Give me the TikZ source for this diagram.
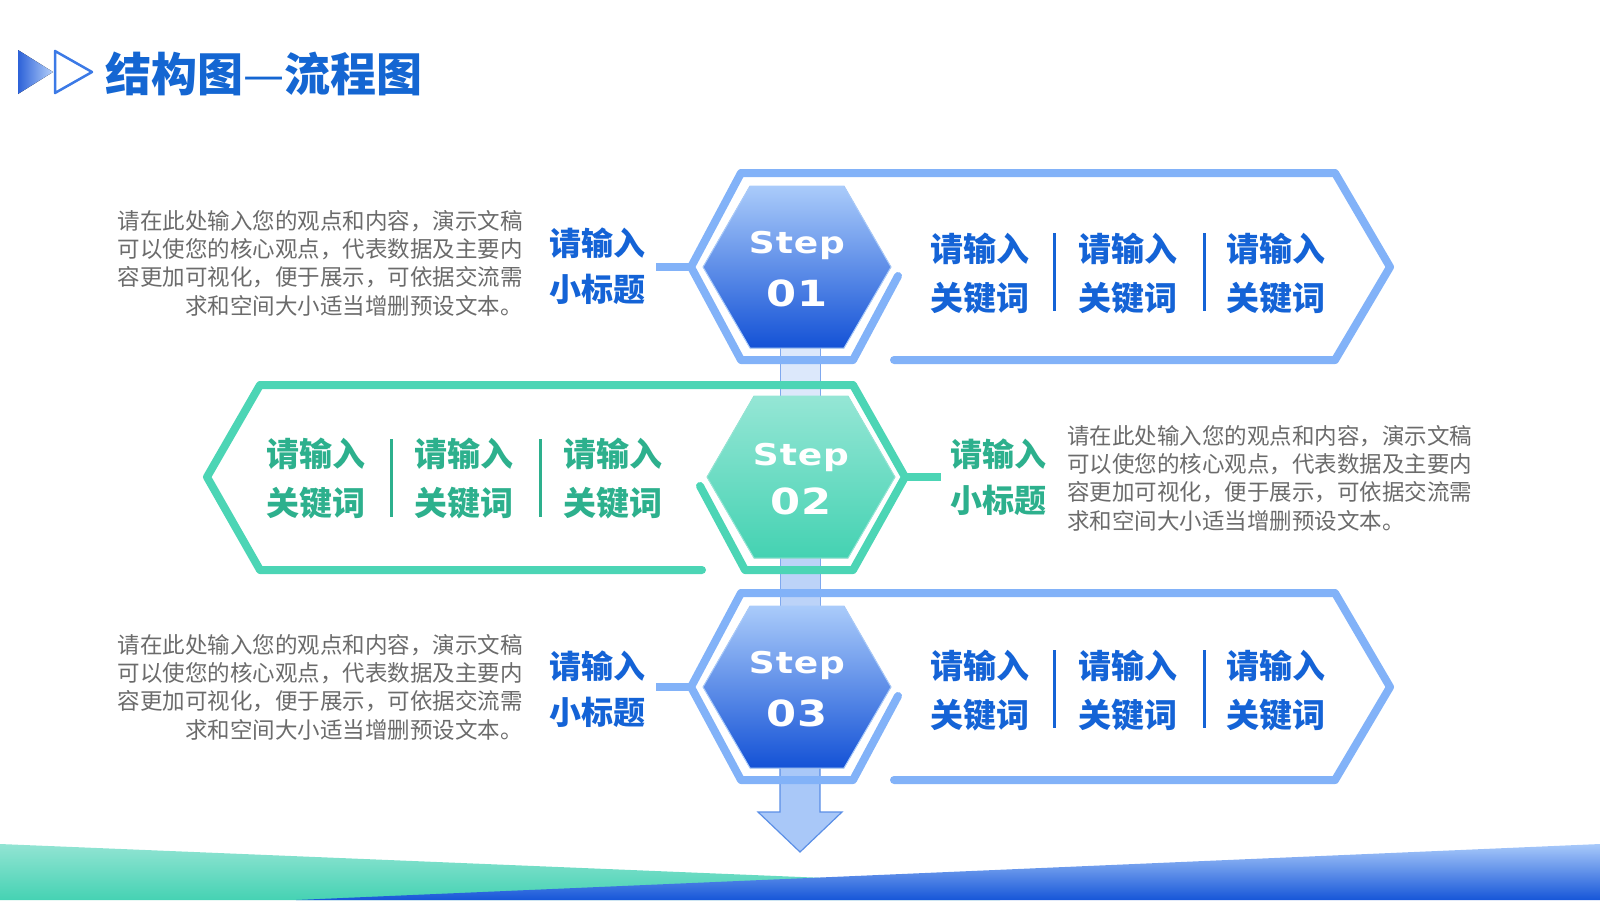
\documentclass[tikz,border=0pt]{standalone}
\usepackage{fontspec}
\setmainfont{Noto Sans CJK SC}
\newfontfamily\stepfont[FakeStretch=1.2,LetterSpace=3]{DejaVu Sans}
\definecolor{kwblue}{HTML}{1463D6}
\definecolor{kwgreen}{HTML}{2DB08D}
\definecolor{bodygray}{HTML}{6B6B6B}
\definecolor{titleblue}{HTML}{1466D2}
\definecolor{outblue}{HTML}{82B2F8}
\definecolor{outgreen}{HTML}{4CD5B5}
\definecolor{hexbluetop}{HTML}{AACBFA}
\definecolor{hexbluebot}{HTML}{1452D6}
\definecolor{hexgreentop}{HTML}{95E6D5}
\definecolor{hexgreenbot}{HTML}{44D2B2}
\definecolor{barlight}{HTML}{DCE8FB}
\definecolor{barmid}{HTML}{BCD3F8}
\definecolor{barside}{HTML}{7FA8EE}
\definecolor{arrowfill}{HTML}{A9C8F8}
\definecolor{arrowdraw}{HTML}{5B8FE6}
\definecolor{bandgreentop}{HTML}{92E4D3}
\definecolor{bandgreenbot}{HTML}{45D2B3}
\definecolor{bandbluetop}{HTML}{A8C9FA}
\definecolor{bandbluebot}{HTML}{1656D8}
\definecolor{icondark}{HTML}{2D62D8}
\definecolor{iconlight}{HTML}{B5D0FA}
\definecolor{iconline}{HTML}{3C7AE6}
\begin{document}
\begin{tikzpicture}[x=1pt,y=-1pt,
  outline/.style={line width=8pt,line cap=round,line join=round},
  link/.style={line width=8pt,line cap=butt},
  kw/.style={font=\fontsize{33}{49}\selectfont\bfseries,align=center,inner sep=0},
  sub/.style={font=\fontsize{32}{46}\selectfont\bfseries,align=center,inner sep=0},
  body/.style={font=\fontsize{22.5}{28.3}\selectfont,text=bodygray,inner sep=0},
  steptxt/.style={font=\stepfont\bfseries\fontsize{30}{30}\selectfont,text=white,inner sep=0,anchor=base},
  stepnum/.style={font=\stepfont\bfseries\fontsize{36}{36}\selectfont,text=white,inner sep=0,anchor=base},
  sepline/.style={line width=3pt},
  hexblue/.style={top color=hexbluetop,bottom color=hexbluebot,draw=hexbluetop,line width=1pt},
  hexgreen/.style={top color=hexgreentop,bottom color=hexgreenbot,draw=hexgreentop,line width=1pt},
  barbox/.style={draw=barside,line width=1pt}
]
\useasboundingbox (0,0) rectangle (1600,900);

% bottom band
\shade[top color=bandgreentop,bottom color=bandgreenbot] (0,844) -- (1000,885.2) -- (1000,900) -- (0,900) -- cycle;
\shade[top color=bandbluetop,bottom color=bandbluebot] (296,900) -- (1600,844) -- (1600,900) -- cycle;

% title
\fill[left color=icondark,right color=iconlight] (18,50) -- (53,72) -- (18,94) -- cycle;
\draw[draw=iconline,line width=2.5pt,line join=round] (55,51) -- (92,72) -- (55,93) -- cycle;
\node[anchor=west,font=\fontsize{46}{46}\selectfont,text=titleblue,inner sep=0] (title) at (105,74) {\bfseries 结构图\mdseries —\bfseries 流程图};

% vertical bars and arrow
\filldraw[barbox,fill=barlight] (780,330) rectangle (820,477);
\filldraw[barbox,fill=barmid] (780,477) rectangle (820,700);
\filldraw[fill=arrowfill,draw=arrowdraw,line width=1.2pt,line join=miter]
  (780,700) -- (780,812) -- (758,812) -- (800,852) -- (842,812) -- (820,812) -- (820,700) -- cycle;

% ---------- step 01 ----------
\begin{scope}[shift={(797,267)}]
  \draw[outline,draw=outblue] (101,9) -- (56,93) -- (-56,93) -- (-106,0) -- (-56,-94) -- (538,-94) -- (593,0) -- (538,93) -- (97,93);
  \coordinate (o1) at (-106,0);
  \coordinate (l1) at (-141,0);
  \draw[link,draw=outblue] (o1) -- (l1);
  \filldraw[hexblue] (-94,0) -- (-47,-81) -- (47,-81) -- (94,0) -- (47,81) -- (-47,81) -- cycle;
  \node[steptxt] (t1a) at (0,-14) {Step};
  \node[stepnum] (t1b) at (0,39) {01};
\end{scope}
\node[sub,text=kwblue] (s1) at (597,266) {请输入\\小标题};
\node[kw,text=kwblue] (k11) at (980,273.5) {请输入\\关键词};
\node[kw,text=kwblue] (k12) at (1128,273.5) {请输入\\关键词};
\node[kw,text=kwblue] (k13) at (1276,273.5) {请输入\\关键词};
\draw[sepline,kwblue] (1054,233) -- (1054,311);
\draw[sepline,kwblue] (1204,233) -- (1204,311);
\node[body,align=right,anchor=north east] (d1) at (523,210) {请在此处输入您的观点和内容，演示文稿\\可以使您的核心观点，代表数据及主要内\\容更加可视化，便于展示，可依据交流需\\求和空间大小适当增删预设文本。};

% ---------- step 02 ----------
\begin{scope}[shift={(801,477)}]
  \draw[outline,draw=outgreen] (-101,9) -- (-56,93) -- (52,93) -- (104,0) -- (52,-92) -- (-541,-92) -- (-594,0) -- (-541,93) -- (-99,93);
  \coordinate (o2) at (104,0);
  \coordinate (l2) at (140,0);
  \draw[link,draw=outgreen] (o2) -- (l2);
  \filldraw[hexgreen] (-94,0) -- (-47,-81) -- (47,-81) -- (94,0) -- (47,81) -- (-47,81) -- cycle;
  \node[steptxt] (t2a) at (0,-12) {Step};
  \node[stepnum] (t2b) at (0,37) {02};
\end{scope}
\node[sub,text=kwgreen] (s2) at (998,477) {请输入\\小标题};
\node[kw,text=kwgreen] (k21) at (316,478.5) {请输入\\关键词};
\node[kw,text=kwgreen] (k22) at (464,478.5) {请输入\\关键词};
\node[kw,text=kwgreen] (k23) at (613,478.5) {请输入\\关键词};
\draw[sepline,kwgreen] (391,439) -- (391,517);
\draw[sepline,kwgreen] (540,439) -- (540,517);
\node[body,align=left,anchor=north west] (d2) at (1067,425) {请在此处输入您的观点和内容，演示文稿\\可以使您的核心观点，代表数据及主要内\\容更加可视化，便于展示，可依据交流需\\求和空间大小适当增删预设文本。};

% ---------- step 03 ----------
\begin{scope}[shift={(797,687)}]
  \draw[outline,draw=outblue] (101,9) -- (56,93) -- (-56,93) -- (-106,0) -- (-56,-94) -- (538,-94) -- (593,0) -- (538,93) -- (97,93);
  \coordinate (o3) at (-106,0);
  \coordinate (l3) at (-141,0);
  \draw[link,draw=outblue] (o3) -- (l3);
  \filldraw[hexblue] (-94,0) -- (-47,-81) -- (47,-81) -- (94,0) -- (47,81) -- (-47,81) -- cycle;
  \node[steptxt] (t3a) at (0,-14) {Step};
  \node[stepnum] (t3b) at (0,39) {03};
\end{scope}
\node[sub,text=kwblue] (s3) at (597,689) {请输入\\小标题};
\node[kw,text=kwblue] (k31) at (980,690.5) {请输入\\关键词};
\node[kw,text=kwblue] (k32) at (1128,690.5) {请输入\\关键词};
\node[kw,text=kwblue] (k33) at (1276,690.5) {请输入\\关键词};
\draw[sepline,kwblue] (1054,650) -- (1054,728);
\draw[sepline,kwblue] (1204,650) -- (1204,728);
\node[body,align=right,anchor=north east] (d3) at (523,634) {请在此处输入您的观点和内容，演示文稿\\可以使您的核心观点，代表数据及主要内\\容更加可视化，便于展示，可依据交流需\\求和空间大小适当增删预设文本。};
\end{tikzpicture}
\end{document}
